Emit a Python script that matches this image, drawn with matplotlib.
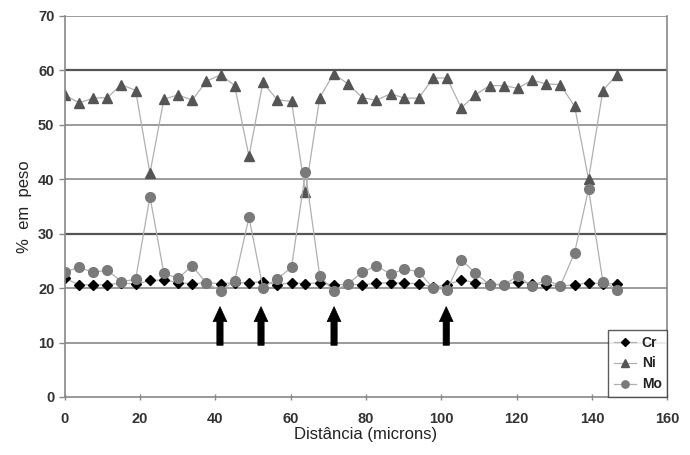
import numpy as np
import matplotlib.pyplot as plt

plt.rcParams['font.family'] = ['Liberation Sans', 'DejaVu Sans']

# distance along the line scan (microns)
dist = [0.0, 3.8, 7.5, 11.3, 15.0, 18.8, 22.6, 26.3, 30.1, 33.8,
        37.6, 41.4, 45.1, 48.9, 52.6, 56.4, 60.2, 63.9, 67.7, 71.4,
        75.2, 79.0, 82.7, 86.5, 90.2, 94.0, 97.8, 101.5, 105.3, 109.0,
        112.8, 116.6, 120.3, 124.1, 127.8, 131.6, 135.4, 139.1, 142.9, 146.6]

cr = [21.8, 20.6, 20.6, 20.6, 21.0, 20.7, 21.4, 21.5, 21.0, 20.8,
      21.0, 20.8, 21.0, 21.0, 21.2, 20.6, 21.0, 20.8, 21.0, 20.6,
      20.7, 20.6, 20.9, 21.0, 20.9, 20.8, 20.2, 20.6, 21.5, 21.0,
      20.8, 20.6, 21.2, 20.8, 20.6, 20.4, 20.6, 21.0, 20.8, 20.8]

ni = [55.5, 54.0, 54.9, 55.0, 57.4, 56.3, 41.1, 54.7, 55.5, 54.5,
      58.0, 59.2, 57.2, 44.2, 57.8, 54.6, 54.3, 37.6, 55.0, 59.4,
      57.5, 55.0, 54.5, 55.7, 54.9, 54.9, 58.6, 58.6, 53.1, 55.5,
      57.2, 57.2, 56.7, 58.2, 57.5, 57.4, 53.4, 40.0, 56.3, 59.2]

mo = [23.0, 23.8, 22.9, 23.3, 21.2, 21.6, 36.8, 22.7, 21.8, 24.1,
      20.9, 19.5, 21.3, 33.0, 20.1, 21.7, 23.8, 41.3, 22.2, 19.5,
      20.8, 22.9, 24.1, 22.6, 23.5, 23.0, 20.0, 19.7, 25.2, 22.8,
      20.6, 20.6, 22.2, 20.4, 21.5, 20.4, 26.5, 38.2, 21.2, 19.7]

# arrow positions marking the interfaces
arrow_x = [41.2, 52.1, 71.5, 101.3]

fig = plt.figure(figsize=(6.9, 4.55), dpi=100)
ax = fig.add_axes([0.094, 0.1275, 0.873, 0.8375])

for yv in range(10, 71, 10):
    dark = yv in (30, 60)
    ax.axhline(yv, color='#555555' if dark else '#8a8a8a',
               lw=1.6 if dark else 1.2, zorder=0)

line_kw = dict(color='#b0b0b0', lw=0.9, zorder=2)
ax.plot(dist, cr, marker='D', ms=5, mfc='black', mec='black', label='Cr', **line_kw)
ax.plot(dist, ni, marker='^', ms=7, mfc='#555555', mec='#555555', label='Ni', **line_kw)
ax.plot(dist, mo, marker='o', ms=7, mfc='#7a7a7a', mec='#7a7a7a', label='Mo', **line_kw)

for xa in arrow_x:
    ax.annotate('', xy=(xa, 16.6), xytext=(xa, 9.5),
                arrowprops=dict(arrowstyle='simple,head_length=0.6,head_width=0.55,tail_width=0.25',
                                fc='black', ec='black', lw=0.5, mutation_scale=18,
                                shrinkA=0, shrinkB=0))

ax.set_xlim(0, 160)
ax.set_ylim(0, 70)
ax.set_xticks(range(0, 161, 20))
ax.set_yticks(range(0, 71, 10))
ax.spines['top'].set_visible(False)
for s in ('left', 'bottom', 'right'):
    ax.spines[s].set_color('#888888')
    ax.spines[s].set_linewidth(1.2)
ax.tick_params(axis='both', colors='#888888', length=4, width=1.0,
               labelcolor='#333333', labelsize=10.5)
ax.tick_params(axis='x', direction='inout', length=5, pad=8)
for lab in ax.get_xticklabels() + ax.get_yticklabels():
    lab.set_fontweight('bold')

ax.set_xlabel('Distância (microns)', fontsize=12, color='#222222', labelpad=1)
ax.set_ylabel('%  em  peso', fontsize=12, color='#222222', labelpad=4)

leg = ax.legend(loc='lower right', bbox_to_anchor=(1.0, 0.0), frameon=True,
                fancybox=False, fontsize=10, handlelength=1.6, markerscale=0.75,
                borderpad=0.4, labelspacing=0.5, handletextpad=0.4,
                borderaxespad=0.0)
leg.get_frame().set_edgecolor('#333333')
leg.get_frame().set_linewidth(1.0)
for t in leg.get_texts():
    t.set_fontweight('bold')
    t.set_color('#222222')

fig.savefig('out.png', dpi=100)
